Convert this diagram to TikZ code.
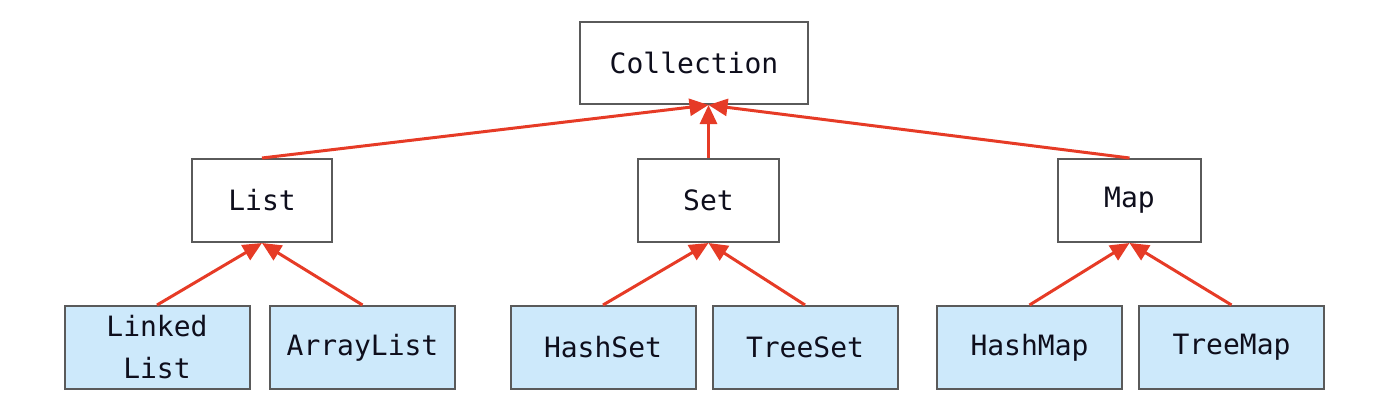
\documentclass[tikz,border=0pt]{standalone}
\usepackage{fontspec}
\setmonofont{DejaVu Sans Mono}
\usetikzlibrary{arrows.meta}
\definecolor{boxline}{HTML}{5A5A5A}
\definecolor{boxblue}{HTML}{CDE9FB}
\definecolor{arrred}{HTML}{E63B26}
\definecolor{txtdark}{HTML}{0E0E1C}
\tikzset{
  box/.style={draw=boxline, line width=2pt, inner sep=0pt, align=center,
    font=\ttfamily\fontsize{28}{42}\selectfont, text=txtdark},
  whitebox/.style={box, fill=white},
  bluebox/.style={box, fill=boxblue, minimum width=185pt, minimum height=83pt},
  arr/.style={draw=arrred, line width=3pt, -{Triangle[length=19pt,width=17pt]}}
}
\begin{document}
\begin{tikzpicture}[x=1pt,y=-1pt]
\useasboundingbox (0,0) rectangle (1381,400);
\node[whitebox, minimum width=228pt, minimum height=82pt] (coll) at (694,63) {Collection};
\node[whitebox, minimum width=140pt, minimum height=83pt] (list) at (262,200.5) {List};
\node[whitebox, minimum width=141pt, minimum height=83pt] (set) at (708.5,200.5) {Set};
\node[whitebox, minimum width=143pt, minimum height=83pt] (map) at (1129.5,200.5) {Map};
\node[bluebox] (ll) at (157,347.5) {Linked\\List};
\node[bluebox] (al) at (362.5,347.5) {ArrayList};
\node[bluebox] (hs) at (603,347.5) {HashSet};
\node[bluebox] (ts) at (805,347.5) {TreeSet};
\node[bluebox] (hm) at (1029.5,347.5) {HashMap};
\node[bluebox] (tm) at (1231.5,347.5) {TreeMap};
\coordinate (ctip) at (set.north |- coll.south);
\draw[arr] (list.north) -- (ctip);
\draw[arr] (set.north) -- (ctip);
\draw[arr] (map.north) -- (ctip);
\draw[arr] (ll.north) -- (list.south);
\draw[arr] (al.north) -- (list.south);
\draw[arr] (hs.north) -- (set.south);
\draw[arr] (ts.north) -- (set.south);
\draw[arr] (hm.north) -- (map.south);
\draw[arr] (tm.north) -- (map.south);
\end{tikzpicture}
\end{document}
